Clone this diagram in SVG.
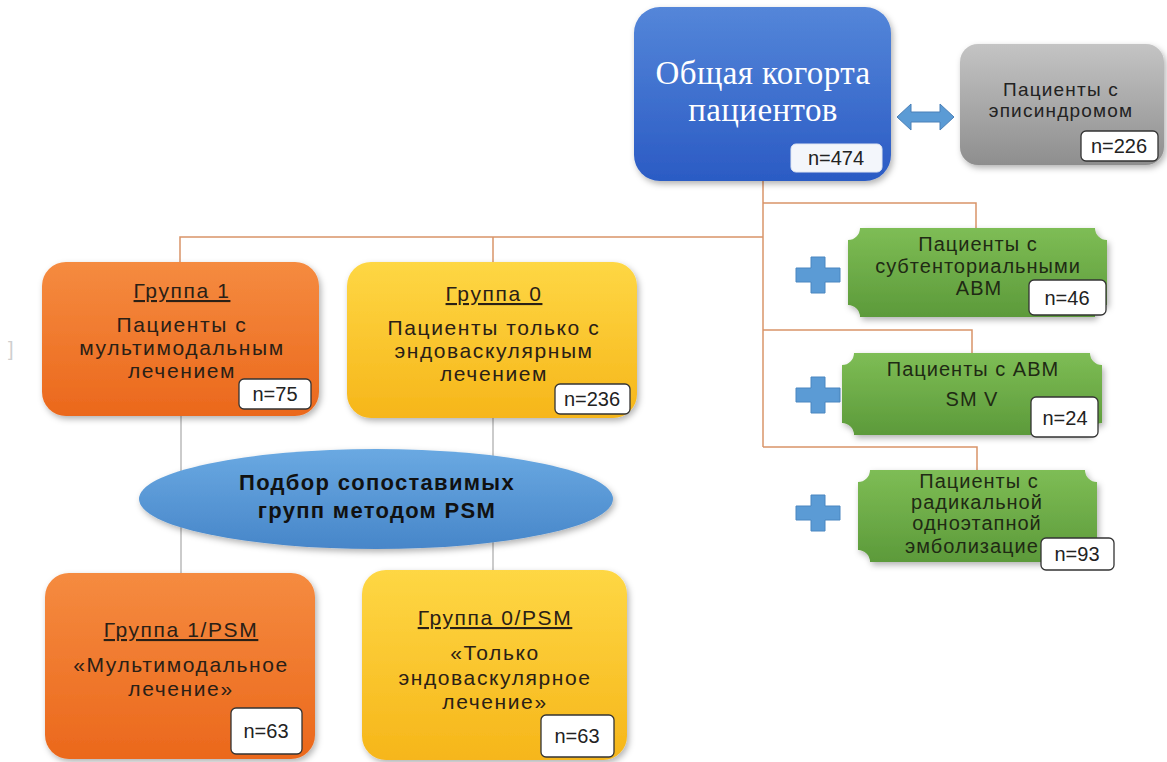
<svg xmlns="http://www.w3.org/2000/svg" width="1167" height="762" viewBox="0 0 1167 762">
<defs>
  <linearGradient id="gBlue" x1="0" y1="0" x2="0" y2="1"><stop offset="0" stop-color="#5486d9"/><stop offset="1" stop-color="#2b5bc4"/></linearGradient>
  <linearGradient id="gGray" x1="0" y1="0" x2="0" y2="1"><stop offset="0" stop-color="#c4c4c4"/><stop offset="1" stop-color="#8e8e8e"/></linearGradient>
  <linearGradient id="gOrange" x1="0" y1="0" x2="0" y2="1"><stop offset="0" stop-color="#f58b40"/><stop offset="1" stop-color="#eb681c"/></linearGradient>
  <linearGradient id="gYellow" x1="0" y1="0" x2="0" y2="1"><stop offset="0" stop-color="#fed744"/><stop offset="1" stop-color="#f6b61a"/></linearGradient>
  <linearGradient id="gGreen" x1="0" y1="0" x2="0" y2="1"><stop offset="0" stop-color="#7ebd55"/><stop offset="1" stop-color="#5c9a3a"/></linearGradient>
  <linearGradient id="gEll" x1="0" y1="0" x2="0" y2="1"><stop offset="0" stop-color="#6aa9e2"/><stop offset="1" stop-color="#4786c9"/></linearGradient>
  <filter id="sh" x="-10%" y="-10%" width="125%" height="130%"><feDropShadow dx="2" dy="3" stdDeviation="3" flood-color="#000" flood-opacity="0.3"/></filter>
</defs>
<style>
  .conn{fill:none;stroke:#d99468;stroke-width:1.5}
  .gline{fill:none;stroke:#a8a8a8;stroke-width:1.2}
  .grp{font-family:"Liberation Sans",Arial,sans-serif;font-size:21px;fill:#2a2016;text-anchor:middle;letter-spacing:1.6px}
  .u{text-decoration:underline}
  .grn{font-family:"Liberation Sans",Arial,sans-serif;font-size:20px;fill:#1f2a14;text-anchor:middle;letter-spacing:1px}
  .gry{font-family:"Liberation Sans",Arial,sans-serif;font-size:19px;fill:#222;text-anchor:middle;letter-spacing:1.2px}
  .ttl{font-family:"Liberation Serif","Times New Roman",serif;font-size:33px;fill:#fff;text-anchor:middle;letter-spacing:0.4px}
  .ell{font-family:"Liberation Sans",Arial,sans-serif;font-size:22px;font-weight:bold;fill:#111;text-anchor:middle;letter-spacing:1.3px}
  .nb{fill:#fff;stroke:#333;stroke-width:1.3}
  .nt{font-family:"Liberation Sans",Arial,sans-serif;font-size:20px;fill:#222;text-anchor:middle}
  .plus{fill:#5b9bd5;stroke:#4a86c0;stroke-width:1}
</style>
<rect width="1167" height="762" fill="#fff"/>
<text x="8" y="356" font-family="Liberation Sans,sans-serif" font-size="20" fill="#cfcfcf">]</text>

<g id="connectors">
  <path class="conn" d="M763,181 V447"/>
  <path class="conn" d="M180,262 V237 H763"/>
  <path class="conn" d="M493,237 V262"/>
  <path class="conn" d="M763,203 H976 V228"/>
  <path class="conn" d="M763,330 H972 V353"/>
  <path class="conn" d="M763,447 H977 V470"/>
  <path class="gline" d="M181,415 V573"/>
  <path class="gline" d="M493,417 V570"/>
  <polygon points="897,117 911,104 911,112 940,112 940,104 954,117 940,130 940,122 911,122 911,130" fill="#5b9bd5" stroke="#4a80b8" stroke-width="1"/>
</g>

<g id="main">
  <rect x="634" y="7" width="257" height="174" rx="26" fill="url(#gBlue)" filter="url(#sh)"/>
  <text class="ttl" x="763" y="84">Общая когорта</text>
  <text class="ttl" x="763" y="121">пациентов</text>
  <rect x="791" y="144" width="91" height="28" rx="5" fill="#f3f6fb" stroke="#dfe6f2" stroke-width="1"/>
  <text class="nt" x="836" y="165">n=474</text>
</g>

<g id="episyndrome">
  <rect x="960" y="44" width="204" height="121" rx="18" fill="url(#gGray)" filter="url(#sh)"/>
  <text class="gry" x="1061" y="96">Пациенты с</text>
  <text class="gry" x="1061" y="117">эписиндромом</text>
  <rect class="nb" x="1081" y="131" width="77" height="30" rx="5"/>
  <text class="nt" x="1119" y="153">n=226</text>
</g>

<g id="group1">
  <rect x="42" y="262" width="277" height="154" rx="24" fill="url(#gOrange)" filter="url(#sh)"/>
  <text class="grp u" x="182" y="298">Группа 1</text>
  <text class="grp" x="182" y="332">Пациенты с</text>
  <text class="grp" x="182" y="355">мультимодальным</text>
  <text class="grp" x="182" y="378">лечением</text>
  <rect class="nb" x="239" y="379" width="72" height="30" rx="5"/>
  <text class="nt" x="275" y="401">n=75</text>
</g>

<g id="group0">
  <rect x="347" y="262" width="290" height="156" rx="24" fill="url(#gYellow)" filter="url(#sh)"/>
  <text class="grp u" x="494" y="301">Группа 0</text>
  <text class="grp" x="494" y="335">Пациенты только с</text>
  <text class="grp" x="494" y="358">эндоваскулярным</text>
  <text class="grp" x="494" y="381">лечением</text>
  <rect class="nb" x="555" y="384" width="75" height="30" rx="5"/>
  <text class="nt" x="592" y="406">n=236</text>
</g>

<g id="psm">
  <ellipse cx="376" cy="499" rx="237" ry="50" fill="url(#gEll)" filter="url(#sh)"/>
  <text class="ell" x="377" y="490">Подбор сопоставимых</text>
  <text class="ell" x="377" y="518">групп методом PSM</text>
</g>

<g id="group1psm">
  <rect x="45" y="573" width="270" height="186" rx="24" fill="url(#gOrange)" filter="url(#sh)"/>
  <text class="grp u" x="181" y="637">Группа 1/PSM</text>
  <text class="grp" x="181" y="672">«Мультимодальное</text>
  <text class="grp" x="181" y="696">лечение»</text>
  <rect class="nb" x="231" y="708" width="71" height="46" rx="5"/>
  <text class="nt" x="266" y="738">n=63</text>
</g>

<g id="group0psm">
  <rect x="362" y="570" width="265" height="190" rx="24" fill="url(#gYellow)" filter="url(#sh)"/>
  <text class="grp u" x="495" y="625">Группа 0/PSM</text>
  <text class="grp" x="495" y="660">«Только</text>
  <text class="grp" x="495" y="685">эндоваскулярное</text>
  <text class="grp" x="495" y="709">лечение»</text>
  <rect class="nb" x="541" y="715" width="73" height="42" rx="5"/>
  <text class="nt" x="577" y="743">n=63</text>
</g>

<g id="subtentorial">
  <path class="plus" d="M811,257 H825 V268 H840 V282 H825 V293 H811 V282 H796 V268 H811 Z"/>
  <path d="M860,228 H1095 A12,12 0 0 0 1107,240 V305 A12,12 0 0 0 1095,317 H860 A12,12 0 0 0 848,305 V240 A12,12 0 0 0 860,228 Z" fill="url(#gGreen)" filter="url(#sh)"/>
  <text class="grn" x="978" y="251">Пациенты с</text>
  <text class="grn" x="978" y="273">субтенториальными</text>
  <text class="grn" x="979" y="295">АВМ</text>
  <rect class="nb" x="1029" y="280" width="77" height="35" rx="5"/>
  <text class="nt" x="1067" y="305">n=46</text>
</g>

<g id="smv">
  <path class="plus" d="M811,377 H825 V388 H840 V402 H825 V413 H811 V402 H796 V388 H811 Z"/>
  <path d="M854,353 H1090 A12,12 0 0 0 1102,365 V423 A12,12 0 0 0 1090,435 H854 A12,12 0 0 0 842,423 V365 A12,12 0 0 0 854,353 Z" fill="url(#gGreen)" filter="url(#sh)"/>
  <text class="grn" x="973" y="376">Пациенты с АВМ</text>
  <text class="grn" x="972" y="406">SM V</text>
  <rect class="nb" x="1031" y="397" width="67" height="40" rx="5"/>
  <text class="nt" x="1065" y="425">n=24</text>
</g>

<g id="embolization">
  <path class="plus" d="M811,495 H825 V506 H840 V520 H825 V531 H811 V520 H796 V506 H811 Z"/>
  <path d="M870,470 H1085 A12,12 0 0 0 1097,482 V550 A12,12 0 0 0 1085,562 H870 A12,12 0 0 0 858,550 V482 A12,12 0 0 0 870,470 Z" fill="url(#gGreen)" filter="url(#sh)"/>
  <text class="grn" x="979" y="488">Пациенты с</text>
  <text class="grn" x="977" y="509">радикальной</text>
  <text class="grn" x="977" y="530">одноэтапной</text>
  <text class="grn" x="972" y="553">эмболизацие</text>
  <rect class="nb" x="1041" y="538" width="73" height="32" rx="5"/>
  <text class="nt" x="1077" y="561">n=93</text>
</g>
</svg>
